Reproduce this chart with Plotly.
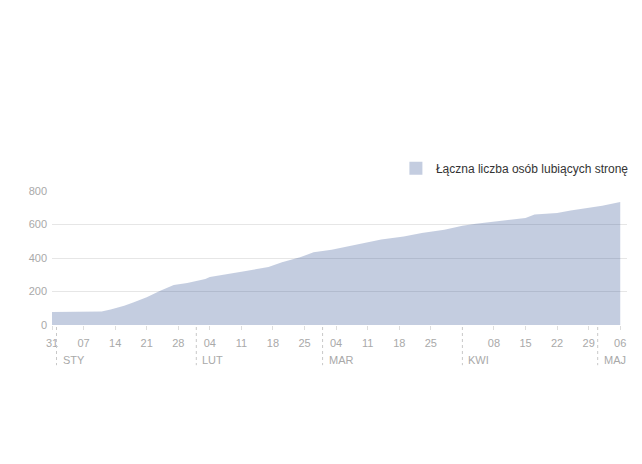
import plotly.graph_objects as go

# odczyty z wykresu (data, łączna liczba polubień)
dates = ["2012-12-31", "2013-01-11", "2013-01-13", "2013-01-16", "2013-01-18",
         "2013-01-21", "2013-01-24", "2013-01-27", "2013-01-30", "2013-02-01",
         "2013-02-03", "2013-02-04", "2013-02-09", "2013-02-11", "2013-02-17",
         "2013-02-20", "2013-02-24", "2013-02-27", "2013-03-03", "2013-03-06",
         "2013-03-10", "2013-03-14", "2013-03-19", "2013-03-23",
         "2013-03-28", "2013-04-01", "2013-04-04", "2013-04-08", "2013-04-11",
         "2013-04-15", "2013-04-17", "2013-04-22", "2013-04-25", "2013-04-29",
         "2013-05-02", "2013-05-06"]
likes = [78, 80, 92, 115, 135,
         165, 205, 239, 251, 261,
         275, 287, 306, 318, 346,
         374, 404, 434, 450, 466,
         492, 511, 528, 549,
         569, 593, 605, 617, 627,
         639, 659, 669, 684, 700,
         712, 734]

week_ticks = ["2012-12-31", "2013-01-07", "2013-01-14", "2013-01-21", "2013-01-28",
              "2013-02-04", "2013-02-11", "2013-02-18", "2013-02-25", "2013-03-04",
              "2013-03-11", "2013-03-18", "2013-03-25", "2013-04-08", "2013-04-15",
              "2013-04-22", "2013-04-29", "2013-05-06"]
week_labels = ["31", "07", "14", "21", "28", "04", "11", "18", "25", "04",
               "11", "18", "25", "08", "15", "22", "29", "06"]

month_starts = ["2013-01-01", "2013-02-01", "2013-03-01", "2013-04-01", "2013-05-01"]
month_labels = ["STY", "LUT", "MAR", "KWI", "MAJ"]

series_name = "Łączna liczba osób lubiących stronę"
fill = "rgba(59,89,152,0.3)"
grey = "#a9a9a9"

fig = go.Figure()
fig.add_trace(go.Scatter(x=dates, y=likes, mode="lines", fill="tozeroy",
                         fillcolor=fill, line=dict(width=0, color=fill),
                         showlegend=False, hoverinfo="x+y"))
# wpis legendy z kwadratem
fig.add_trace(go.Scatter(x=[None], y=[None], mode="markers", name=series_name,
                         marker=dict(symbol="square", size=13, color="#c4cde0")))

for d, m in zip(month_starts, month_labels):
    fig.add_shape(type="line", xref="x", yref="paper", x0=d, x1=d, y0=-0.015, y1=-0.3,
                  line=dict(color="#c8c8c8", width=1, dash="dot"))
    fig.add_annotation(x=d, y=-0.32, xref="x", yref="paper", text=m, showarrow=False,
                       xanchor="left", yanchor="bottom", xshift=4,
                       font=dict(size=11, color=grey))

# strona ma 8px marginesu body, stąd przesunięcie
fig.update_layout(
    width=642, height=464,
    margin=dict(l=44, r=23, t=183, b=147),
    plot_bgcolor="white", paper_bgcolor="white",
    font=dict(family="Arial, Liberation Sans, sans-serif", size=11, color=grey),
    legend=dict(x=1.012, y=1.17, xanchor="right", yanchor="middle", orientation="h",
                font=dict(size=12, color="#333333"), itemwidth=30),
    xaxis=dict(range=["2012-12-31", "2013-05-07 12:00"], tickvals=week_ticks,
               ticktext=week_labels, ticks="outside", ticklen=4, tickcolor="#dddddd",
               showgrid=False, zeroline=False, showline=False, ticklabelstandoff=4,
               tickfont=dict(size=11, color=grey)),
    yaxis=dict(range=[0, 800], tickvals=[0, 200, 400, 600, 800], showgrid=True,
               gridcolor="#e6e6e6", zeroline=False, showline=False,
               tickfont=dict(size=11, color=grey), ticks="", ticklabelstandoff=4),
)

fig.write_html("out.html")
